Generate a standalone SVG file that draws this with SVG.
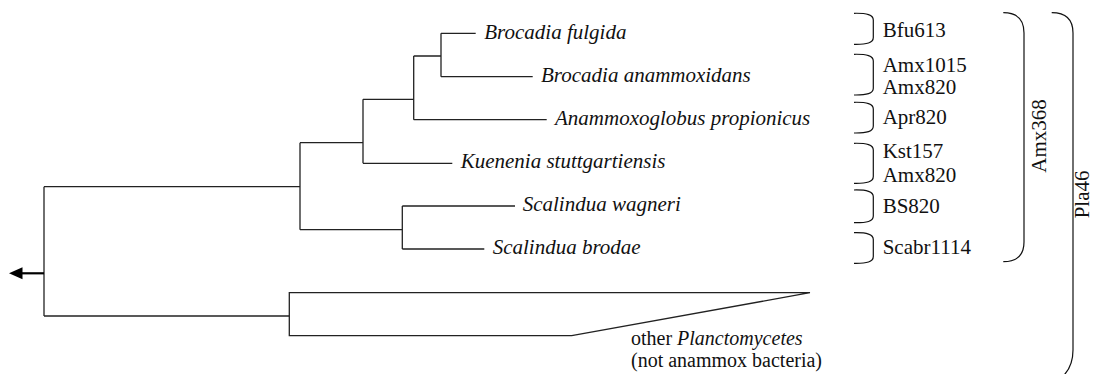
<svg xmlns="http://www.w3.org/2000/svg" width="1093" height="374" viewBox="0 0 1093 374">
<style>
.br{fill:none;stroke:#222;stroke-width:1.3}
.tx{font-family:"Liberation Serif","Times New Roman",serif;font-size:21px;fill:#111}
.sp{font-style:italic}
.bk{fill:none;stroke:#111;stroke-width:1.2}
.sm{font-size:20px}
</style>
<g id="connectors">
<path class="br" d="M44,186.7 V316"/>
<path class="br" d="M44,186.7 H300 M300,142.7 V229.7"/>
<path class="br" d="M300,142.7 H363 M363,99.3 V163.3 M363,163.3 H452.3"/>
<path class="br" d="M363,99.3 H413.7 M413.7,56 V119.7 M413.7,119.7 H546.7"/>
<path class="br" d="M413.7,56 H441 M441,33.3 V76.7 M441,33.3 H475.7 M441,76.7 H532.7"/>
<path class="br" d="M300,229.7 H402.3 M402.3,206 V249 M402.3,206 H515 M402.3,249 H484.3"/>
<path class="br" d="M44,316 H289.3"/>
<path class="br" d="M289.3,292.7 H810 L571.7,335.7 H289.3 Z"/>
<path d="M44,273.3 H20" fill="none" stroke="#000" stroke-width="2.2"/>
<path d="M9,273.3 L22.5,267.3 L22.5,279.3 Z" fill="#000"/>
</g>
<g id="node-fulgida"><text class="tx sp" x="484.3" y="39">Brocadia fulgida</text></g>
<g id="node-anammoxidans"><text class="tx sp" x="541" y="82">Brocadia anammoxidans</text></g>
<g id="node-anammoxoglobus"><text class="tx sp" x="555" y="125">Anammoxoglobus propionicus</text></g>
<g id="node-kuenenia"><text class="tx sp" x="460.7" y="168">Kuenenia stuttgartiensis</text></g>
<g id="node-wagneri"><text class="tx sp" x="522.7" y="211">Scalindua wagneri</text></g>
<g id="node-brodae"><text class="tx sp" x="492.7" y="254">Scalindua brodae</text></g>
<g id="node-other"><text class="tx sm" x="631" y="345">other <tspan class="sp">Planctomycetes</tspan></text><text class="tx sm" x="631" y="367">(not anammox bacteria)</text></g>
<g id="probe-bfu"><path class="bk" d="M854,13.3 C867,13 873.3,15 873.3,20 V37.6 C873.3,43 867,44.5 854,44.3"/><text class="tx" x="882.7" y="36.5">Bfu613</text></g>
<g id="probe-amx1015"><path class="bk" d="M854,54.3 C867,54 873.3,56 873.3,61 V88.3 C873.3,93.5 867,95.2 854,95"/><text class="tx" x="882.7" y="71.7">Amx1015</text><text class="tx" x="882.7" y="94.3">Amx820</text></g>
<g id="probe-apr"><path class="bk" d="M854,102.3 C867,102 873.3,104 873.3,109 V126 C873.3,131.5 867,133.2 854,133"/><text class="tx" x="882.7" y="124">Apr820</text></g>
<g id="probe-kst"><path class="bk" d="M854,143.3 C867,143 873.3,145 873.3,150 V176.6 C873.3,182 867,183.5 854,183.3"/><text class="tx" x="882.7" y="158.3">Kst157</text><text class="tx" x="882.7" y="181.7">Amx820</text></g>
<g id="probe-bs"><path class="bk" d="M854,190 C867,189.7 873.3,191.7 873.3,196.7 V216 C873.3,221.4 867,222.9 854,222.7"/><text class="tx" x="882.7" y="213.3">BS820</text></g>
<g id="probe-scabr"><path class="bk" d="M854,232.7 C867,232.4 873.3,234.4 873.3,239.4 V256.6 C873.3,262 867,263.5 854,263.3"/><text class="tx" x="882.7" y="254">Scabr1114</text></g>
<g id="probe-amx368"><path class="bk" d="M1003.3,12.7 C1017,12.7 1024,20 1024,33 V242 C1024,255 1017,261.7 1003.3,261.7"/><text class="tx" transform="translate(1046,136) rotate(-90)" text-anchor="middle">Amx368</text></g>
<g id="probe-pla46"><path class="bk" d="M1051.7,12.7 C1066,12.7 1073,20 1073,33 V350 C1073,362 1070,370 1062,377"/><text class="tx" transform="translate(1089,194.4) rotate(-90)" text-anchor="middle">Pla46</text></g>
</svg>
